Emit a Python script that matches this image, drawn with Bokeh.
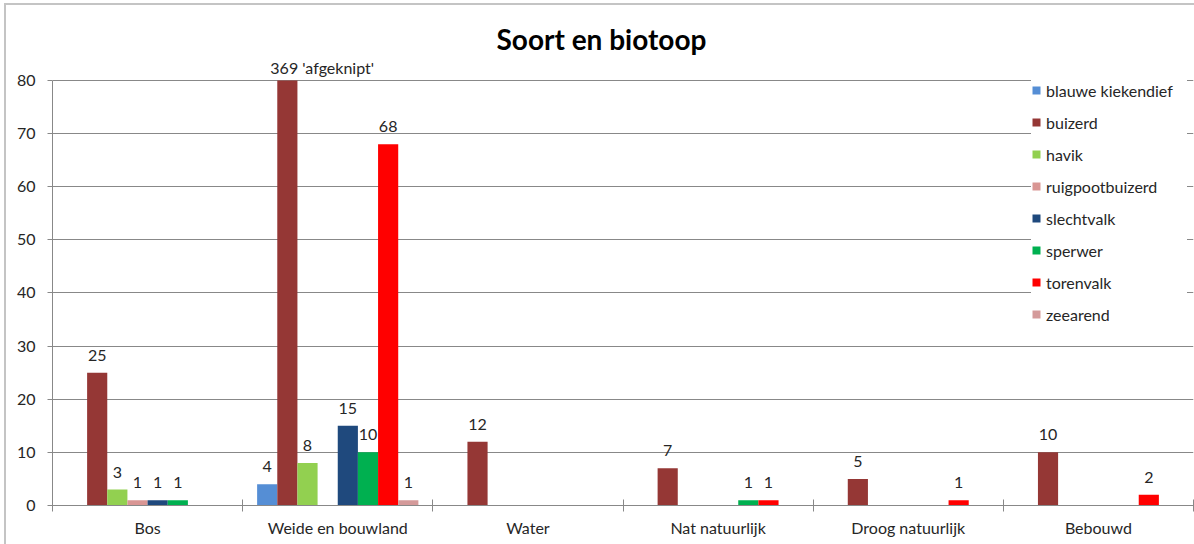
import numpy as np
from bokeh.plotting import figure
from bokeh.models import (ColumnDataSource, Range1d, FixedTicker, LabelSet, Title,
                          Legend)
from bokeh.core.properties import value
from bokeh.transform import dodge
from bokeh.embed import file_html
from bokeh.resources import INLINE

categories = ["Bos", "Weide en bouwland", "Water", "Nat natuurlijk",
              "Droog natuurlijk", "Bebouwd"]
series_names = ["blauwe kiekendief", "buizerd", "havik", "ruigpootbuizerd",
                "slechtvalk", "sperwer", "torenvalk", "zeearend"]
blauwe_kiekendief = [0, 4, 0, 0, 0, 0]
buizerd = [25, 369, 12, 7, 5, 10]
havik = [3, 8, 0, 0, 0, 0]
ruigpootbuizerd = [1, 0, 0, 0, 0, 0]
slechtvalk = [1, 15, 0, 0, 0, 0]
sperwer = [1, 10, 0, 1, 0, 0]
torenvalk = [0, 68, 0, 1, 1, 2]
zeearend = [0, 1, 0, 0, 0, 0]
series_values = [blauwe_kiekendief, buizerd, havik, ruigpootbuizerd,
                 slechtvalk, sperwer, torenvalk, zeearend]
colors = ["#558ED5", "#953735", "#92D050", "#D99694",
          "#1F497D", "#00B050", "#FF0000", "#D49A9A"]
y_ticks = [0, 10, 20, 30, 40, 50, 60, 70, 80]
y_max = 80
clip_note = "'afgeknipt'"

FONT = "Lato"
TXT = "#262626"
GRID = "#888888"
FS = "16px"
HEADROOM = 4.5  # room above the axis maximum for the clipped-bar label

p = figure(width=1188, height=539, output_backend="svg", toolbar_location=None,
           x_range=Range1d(0, len(categories)),
           y_range=Range1d(0, y_max + HEADROOM),
           min_border_left=46, min_border_right=1, min_border_top=51,
           min_border_bottom=39)
p.styles = {"margin-left": "6px", "margin-top": "5px",
            "outline": "2px solid #c4c4c4", "outline-offset": "0px"}
p.outline_line_color = None
p.background_fill_color = "white"
p.border_fill_color = "white"

p.title = Title(text="Soort en biotoop", align="left", text_font=FONT,
                text_font_size="28px", text_font_style="bold",
                text_color="#000000", standoff=2, offset=444)

n = len(series_names)
bw = 0.106
centers = [i + 0.5 for i in range(len(categories))]
items = []
lab_x, lab_y, lab_t, lab_off, lab_xoff, lab_align = [], [], [], [], [], []
for j, (name, vals, col) in enumerate(zip(series_names, series_values, colors)):
    off = (j - (n - 1) / 2) * bw
    src = ColumnDataSource(dict(x=centers, top=[min(v, y_max) for v in vals],
                                value=vals))
    r = p.vbar(x=dodge("x", off), top="top", width=bw, source=src,
               fill_color=col, line_color=None)
    items.append((name, [r]))
    for c, v in zip(centers, vals):
        if v > 0:
            clipped = v > y_max
            lab_x.append(c + off)
            lab_y.append(min(v, y_max))
            lab_t.append(f"{v} {clip_note}" if clipped else str(v))
            lab_off.append(6 if clipped else 12)
            lab_xoff.append(-17 if clipped else 0)
            lab_align.append("left" if clipped else "center")

lsrc = ColumnDataSource(dict(x=lab_x, y=lab_y, t=lab_t, off=lab_off,
                             xoff=lab_xoff, align=lab_align))
labels = LabelSet(x="x", y="y", text="t", source=lsrc, text_align="align",
                  text_baseline="alphabetic", y_offset="off", x_offset="xoff",
                  text_font=value(FONT), text_font_size=value(FS),
                  text_color=TXT)
p.add_layout(labels)

# axes
xa = p.xaxis[0]
xa.ticker = FixedTicker(ticks=centers, minor_ticks=list(range(len(categories) + 1)))
xa.major_label_overrides = {c: cat for c, cat in zip(centers, categories)}
xa.major_tick_line_color = None
xa.major_tick_out = 0
xa.minor_tick_in = 6
xa.minor_tick_out = 6
xa.minor_tick_line_color = GRID
xa.axis_line_color = GRID
xa.major_label_text_font = FONT
xa.major_label_text_font_size = FS
xa.major_label_text_color = TXT
xa.major_label_standoff = 6

ya = p.yaxis[0]
ya.ticker = FixedTicker(ticks=y_ticks, minor_ticks=[])
ya.bounds = (0, y_max)
ya.major_tick_line_color = GRID
ya.major_tick_in = 0
ya.major_tick_out = 5
ya.minor_tick_line_color = None
ya.axis_line_color = GRID
ya.major_label_text_font = FONT
ya.major_label_text_font_size = FS
ya.major_label_text_color = TXT
ya.major_label_standoff = 12

p.xgrid.grid_line_color = None
p.ygrid.grid_line_color = GRID
p.ygrid.ticker = FixedTicker(ticks=y_ticks[1:])

legend = Legend(items=items, location=(979, 181), orientation="vertical",
                label_text_font=FONT, label_text_font_size=FS,
                label_text_color=TXT, glyph_width=10, glyph_height=10,
                label_height=20, label_width=141, label_standoff=5, spacing=12,
                padding=2, margin=0, border_line_color=None,
                background_fill_color="white", background_fill_alpha=1.0)
p.add_layout(legend)

open("out.html", "w").write(file_html(p, INLINE))
